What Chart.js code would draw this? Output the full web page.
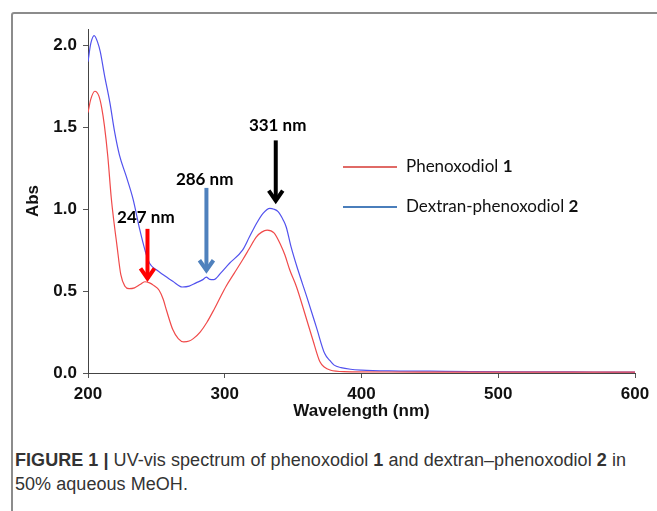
<!DOCTYPE html>
<html lang="en">

<head>
    <meta charset="UTF-8">
    <title>UV-vis spectrum</title>
    <script src="https://cdn.jsdelivr.net/npm/chart.js"></script>
    <style>
        body {
            margin: 0;
            background: #fff;
        }

        .frame {
            position: absolute;
            left: 11px;
            top: 12px;
            width: 700px;
            height: 600px;
            border: 2px solid #8c8c8c;
            border-radius: 3px;
        }

        #myChart {
            position: absolute;
            left: 0;
            top: 0;
        }

        .caption {
            position: absolute;
            left: 15px;
            top: 448px;
            width: 650px;
            font-family: "Liberation Sans", Arial, sans-serif;
            font-size: 18px;
            letter-spacing: 0.05px;
            line-height: 24px;
            color: #333;
            white-space: nowrap;
        }
    </style>
</head>

<body>
    <div class="frame"></div>
    <canvas id="myChart" width="657" height="440"></canvas>
    <div class="caption"><b>FIGURE 1 |</b> UV-vis spectrum of phenoxodiol <b>1</b> and dextran&ndash;phenoxodiol <b>2</b> in<br>50% aqueous MeOH.</div>

    <script>
        // Phenoxodiol 1 (red)
        const wavelengthRed = [200, 202, 205, 208, 210, 212, 214.5, 217, 219, 221, 224, 227, 230, 234, 238, 241.5, 245, 248, 252, 255, 257.5, 262, 266, 270, 274, 277, 282, 287, 292, 296, 301, 307, 313, 318, 323, 327, 331, 336, 341, 344, 347.5, 352.5, 358.5, 364.5, 369.5, 373, 377, 387, 420, 500, 600];
        const absRed = [1.59, 1.67, 1.72, 1.69, 1.62, 1.51, 1.32, 1.07, 0.92, 0.79, 0.60, 0.53, 0.515, 0.52, 0.54, 0.557, 0.55, 0.535, 0.505, 0.45, 0.38, 0.265, 0.21, 0.19, 0.195, 0.21, 0.25, 0.31, 0.385, 0.45, 0.53, 0.61, 0.69, 0.76, 0.83, 0.86, 0.872, 0.855, 0.78, 0.72, 0.63, 0.525, 0.365, 0.20, 0.07, 0.035, 0.018, 0.008, 0.006, 0.005, 0.005];

        // Dextran-phenoxodiol 2 (blue)
        const wavelengthBlue = [200, 202, 204.5, 207, 209, 212, 216, 219.5, 223, 228, 233, 238, 242, 245, 250, 255, 262, 269, 274, 279, 284, 286.5, 289, 292, 297, 303.5, 313, 318, 323, 328, 333, 336, 339, 343, 345, 348.5, 353.5, 360, 367, 373, 377, 380, 385, 392, 400, 420, 450, 480, 520, 570, 600];
        const absBlue = [1.90, 2.01, 2.06, 2.02, 1.96, 1.82, 1.65, 1.47, 1.33, 1.20, 1.06, 0.87, 0.74, 0.67, 0.63, 0.60, 0.56, 0.525, 0.53, 0.55, 0.57, 0.585, 0.572, 0.57, 0.61, 0.67, 0.75, 0.83, 0.91, 0.975, 1.005, 1.00, 0.985, 0.93, 0.89, 0.77, 0.63, 0.465, 0.28, 0.12, 0.075, 0.048, 0.033, 0.023, 0.018, 0.013, 0.011, 0.009, 0.007, 0.006, 0.005];

        const seriesNames = ["Phenoxodiol", "Dextran-phenoxodiol"];
        const seriesNumbers = ["1", "2"];

        const xTicks = [200, 300, 400, 500, 600];
        const yTicks = [0, 0.5, 1.0, 1.5, 2.0];

        // peak markers
        const peakLabels = ["247 nm", "286 nm", "331 nm"];
        const peakArrowX = [243.5, 286.6, 337.3];
        const peakArrowTop = [0.88, 1.13, 1.42];
        const peakArrowTip = [0.565, 0.615, 1.04];
        const peakLabelX = [242.3, 285.3, 338.7];
        const peakLabelY = [0.95, 1.18, 1.51];

        function points(xs, ys) {
            return xs.map((v, i) => ({ x: v, y: ys[i] }));
        }

        const annotations = {
            id: 'annotations',
            afterDatasetsDraw(chart) {
                const { ctx, scales: { x, y } } = chart;
                const arrowColors = ['#ff0000', '#4f81bd', '#000000'];
                ctx.save();
                for (let i = 0; i < peakLabels.length; i++) {
                    const px = x.getPixelForValue(peakArrowX[i]);
                    const top = y.getPixelForValue(peakArrowTop[i]);
                    const tip = y.getPixelForValue(peakArrowTip[i]);
                    ctx.strokeStyle = arrowColors[i];
                    ctx.lineWidth = 4;
                    ctx.beginPath();
                    ctx.moveTo(px, top);
                    ctx.lineTo(px, tip - 2);
                    ctx.stroke();
                    ctx.beginPath();
                    ctx.moveTo(px - 7, tip - 12);
                    ctx.lineTo(px, tip - 2);
                    ctx.lineTo(px + 7, tip - 12);
                    ctx.stroke();

                    ctx.fillStyle = '#000';
                    ctx.font = 'bold 17px Lato';
                    ctx.textAlign = 'center';
                    ctx.textBaseline = 'middle';
                    ctx.fillText(peakLabels[i], x.getPixelForValue(peakLabelX[i]), y.getPixelForValue(peakLabelY[i]));
                }

                // legend, placed by hand like the original
                const legendColors = ['#e06a66', '#4a7ebb'];
                const legendY = [167, 207];
                ctx.textAlign = 'left';
                for (let i = 0; i < seriesNames.length; i++) {
                    ctx.strokeStyle = legendColors[i];
                    ctx.lineWidth = 2;
                    ctx.beginPath();
                    ctx.moveTo(343, legendY[i]);
                    ctx.lineTo(397, legendY[i]);
                    ctx.stroke();
                    ctx.font = '17px Lato';
                    ctx.fillStyle = '#111';
                    const name = seriesNames[i] + ' ';
                    ctx.fillText(name, 406, legendY[i]);
                    const w = ctx.measureText(name).width;
                    ctx.font = 'bold 17px Lato';
                    ctx.fillText(seriesNumbers[i], 406 + w, legendY[i]);
                }
                ctx.restore();
            }
        };

        const tickFont = { family: 'Liberation Sans', size: 17, weight: 'bold' };

        const ctx = document.getElementById('myChart');
        const myChart = new Chart(ctx, {
            type: 'line',
            data: {
                datasets: [{
                    label: seriesNames[0] + ' ' + seriesNumbers[0],
                    data: points(wavelengthRed, absRed),
                    borderColor: '#f04a4a',
                    borderWidth: 1.2,
                    pointRadius: 0,
                    cubicInterpolationMode: 'monotone'
                }, {
                    label: seriesNames[1] + ' ' + seriesNumbers[1],
                    data: points(wavelengthBlue, absBlue),
                    borderColor: '#5252ee',
                    borderWidth: 1.2,
                    pointRadius: 0,
                    cubicInterpolationMode: 'monotone'
                }]
            },
            options: {
                responsive: false,
                animation: false,
                devicePixelRatio: 1,
                layout: {
                    padding: { left: 0, top: 29, right: 22, bottom: 0 }
                },
                plugins: {
                    legend: { display: false },
                    tooltip: { enabled: false }
                },
                scales: {
                    x: {
                        type: 'linear',
                        min: 200,
                        max: 600,
                        afterBuildTicks: s => { s.ticks = xTicks.map(v => ({ value: v })); },
                        afterFit: s => { s.height = 67; },
                        grid: { drawOnChartArea: false, color: '#555', tickLength: 5 },
                        border: { color: '#444', width: 1 },
                        ticks: { font: tickFont, color: '#111', padding: 6, maxRotation: 0 },
                        title: {
                            display: true,
                            text: 'Wavelength (nm)',
                            font: tickFont,
                            color: '#111',
                            padding: { top: 0, bottom: 18 }
                        }
                    },
                    y: {
                        min: 0,
                        max: 2.1,
                        afterBuildTicks: s => { s.ticks = yTicks.map(v => ({ value: v })); },
                        afterFit: s => { s.width = 88; },
                        grid: { drawOnChartArea: false, color: '#555', tickLength: 5 },
                        border: { color: '#444', width: 1 },
                        ticks: {
                            font: tickFont,
                            color: '#111',
                            padding: 6,
                            callback: v => v.toFixed(1)
                        },
                        title: {
                            display: true,
                            text: 'Abs',
                            font: tickFont,
                            color: '#111',
                            padding: { top: 23, bottom: 0 }
                        }
                    }
                }
            },
            plugins: [annotations]
        });
    </script>
</body>

</html>
